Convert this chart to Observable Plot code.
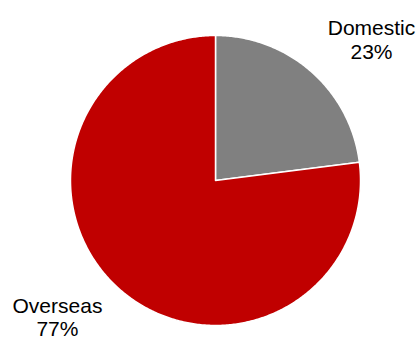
<!DOCTYPE html>
<html>
<head>
<meta charset="utf-8">
<script src="https://cdn.jsdelivr.net/npm/d3@7"></script>
<script src="https://cdn.jsdelivr.net/npm/@observablehq/plot@0.6"></script>
<style>
  html, body { margin: 0; padding: 0; background: #fff; }
  #chart svg { display: block; }
</style>
</head>
<body>
<div id="chart"></div>
<script>
// Revenue split by market
const categories = ["Domestic", "Overseas"];
const shares = [23, 77];
const colors = ["#808080", "#C00000"];

// Label anchors (unit-circle coordinates, outside the pie)
const labelX = [1.076, -1.09];
const labelY = [0.972, -0.94];

const slices = d3.pie().sort(null).value(d => d)(shares);

// Each wedge as a closed polygon: centre, then points along its arc
const wedgePoints = slices.flatMap((s, i) => {
  const n = Math.max(2, Math.ceil((s.endAngle - s.startAngle) / 0.01));
  const pts = [{cat: categories[i], x: 0, y: 0}];
  for (let k = 0; k <= n; ++k) {
    const a = s.startAngle + (s.endAngle - s.startAngle) * k / n;
    pts.push({cat: categories[i], x: Math.sin(a), y: Math.cos(a)});
  }
  return pts;
});

const labels = categories.map((c, i) => ({
  text: `${c}\n${Math.round(slices[i].value / d3.sum(shares) * 100)}%`,
  x: labelX[i],
  y: labelY[i]
}));

const chart = Plot.plot({
  width: 419,
  height: 343,
  margin: 0,
  x: {domain: [-1, 1], range: [70, 360], axis: null},
  y: {domain: [-1, 1], range: [325, 35], axis: null},
  color: {domain: categories, range: colors},
  style: {fontFamily: "'Liberation Sans', Arial, sans-serif", background: "#fff"},
  marks: [
    Plot.line(wedgePoints, {
      x: "x", y: "y", z: "cat",
      fill: "cat",
      stroke: "#fff",
      strokeWidth: 1.5,
      curve: "linear-closed"
    }),
    Plot.text(labels, {
      x: "x", y: "y", text: "text",
      fontSize: 21,
      lineHeight: 1.1,
      fill: "#000",
      textAnchor: "middle"
    })
  ]
});

document.getElementById("chart").appendChild(chart);
</script>
</body>
</html>
